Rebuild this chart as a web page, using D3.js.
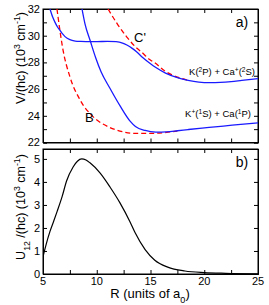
<!DOCTYPE html>
<html>
<head>
<meta charset="utf-8">
<script src="https://cdn.jsdelivr.net/npm/d3@7"></script>
<style>
  body { margin: 0; background: #fff; }
  svg { font-family: "Liberation Sans", Arial, sans-serif; }
</style>
</head>
<body>
<div id="chart"></div>
<script>
// R values (units of a0) and energies
var upperBlueR = [5.65, 5.9, 6.12, 6.35, 6.58, 6.8, 7.05, 7.5, 8.0, 8.5, 9.0, 10.0, 11.0, 11.8, 12.4, 12.8, 13.3, 13.7, 14.3, 15.0, 15.5, 16.4, 17.5, 18.5, 19.5, 20.5, 21.5, 22.5, 23.5, 25];
var upperBlueV = [32.0, 31.4, 31.0, 30.65, 30.4, 30.15, 29.93, 29.7, 29.6, 29.57, 29.56, 29.56, 29.57, 29.55, 29.45, 29.3, 29.05, 28.8, 28.35, 27.9, 27.62, 27.2, 26.86, 26.65, 26.52, 26.48, 26.5, 26.56, 26.65, 26.78];

var lowerBlueR = [8.63, 8.9, 9.4, 9.9, 10.4, 11.2, 12.2, 13.1, 13.6, 14.5, 15.5, 16.5, 17.5, 18.5, 19.8, 21, 22.6, 25];
var lowerBlueV = [32.0, 30.9, 29.6, 28.35, 27.3, 26.1, 24.7, 23.6, 23.2, 22.9, 22.78, 22.8, 22.88, 22.97, 23.08, 23.17, 23.3, 23.47];

var redBR = [6.3, 6.4, 6.86, 7.5, 8.44, 9.65, 11.23, 12.44, 13.5, 15, 16.5, 17.5];
var redBV = [32.0, 31.4, 28.94, 26.93, 25.2, 23.94, 23.12, 22.8, 22.68, 22.68, 22.76, 22.86];

var redCR = [11.05, 11.98, 12.8, 13.56, 14.2, 14.95, 15.4, 16.35, 17.5, 18.5];
var redCV = [32.0, 30.8, 29.9, 29.2, 28.75, 28.2, 27.97, 27.35, 26.9, 26.66];

var couplingR = [5, 5.3, 5.65, 6.0, 6.3, 6.77, 7.2, 7.8, 8.2, 8.6, 9.0, 9.37, 10.3, 11.23, 12.16, 13.1, 13.56, 14.5, 15.4, 16.6, 18.2, 20, 22, 25];
var couplingU = [0.75, 1.3, 1.85, 2.3, 2.7, 3.35, 4.05, 4.65, 4.9, 5.0, 4.95, 4.83, 4.39, 3.78, 3.09, 2.26, 1.8, 1.06, 0.6, 0.3, 0.13, 0.06, 0.03, 0.01];

var xTickLabels = [5, 10, 15, 20, 25];
var topTickLabels = [22, 24, 26, 28, 30, 32];
var bottomTickLabels = [0, 1, 2, 3, 4, 5];

function zip(xs, ys) {
    return xs.map(function(x, i) { return [x, ys[i]]; });
}

var width = 269, height = 305;
var left = 43, right = 258;

var svg = d3.select("#chart").append("svg")
    .attr("width", width)
    .attr("height", height);

var x = d3.scaleLinear().domain([5, 25]).range([left, right]);
var yTop = d3.scaleLinear().domain([22, 32]).range([142.5, 9]);
var yBot = d3.scaleLinear().domain([0, 5.43]).range([274, 149]);

var xMinor = d3.range(5, 25.01, 2.5);

function frame(y, minorY, labelTicks) {
    var g = svg.append("g");
    var y0 = y.range()[0], y1 = y.range()[1];

    // inward ticks on all four sides
    g.append("g")
        .attr("transform", "translate(0," + y0 + ")")
        .call(d3.axisBottom(x).tickValues(xMinor).tickSize(-4).tickFormat(""));
    g.append("g")
        .attr("transform", "translate(0," + y1 + ")")
        .call(d3.axisTop(x).tickValues(xMinor).tickSize(-4).tickFormat(""));
    g.append("g")
        .attr("transform", "translate(" + left + ",0)")
        .call(d3.axisLeft(y).tickValues(minorY).tickSize(-4).tickFormat(""));
    g.append("g")
        .attr("transform", "translate(" + right + ",0)")
        .call(d3.axisRight(y).tickValues(minorY).tickSize(-4).tickFormat(""));

    // tick labels on the left
    g.selectAll(".ylab")
        .data(labelTicks)
        .enter().append("text")
        .attr("x", left - 3)
        .attr("y", function(d) { return y(d); })
        .attr("dy", "0.35em")
        .attr("text-anchor", "end")
        .attr("font-size", 11)
        .text(function(d) { return d; });

    g.selectAll(".domain").attr("stroke", "#000");
    g.selectAll(".tick line").attr("stroke", "#000");

    g.append("rect")
        .attr("x", left).attr("y", y1)
        .attr("width", right - left).attr("height", y0 - y1)
        .attr("fill", "none").attr("stroke", "#000").attr("stroke-width", 1);
}

frame(yTop, d3.range(22, 32.01, 1), topTickLabels);
frame(yBot, d3.range(0, 5.01, 1), bottomTickLabels);

// x tick labels for bottom panel
svg.selectAll(".xlab")
    .data(xTickLabels)
    .enter().append("text")
    .attr("x", function(d) { return x(d); })
    .attr("y", 285)
    .attr("text-anchor", "middle")
    .attr("font-size", 11)
    .text(function(d) { return d; });

// clip paths
svg.append("clipPath").attr("id", "clipTop")
    .append("rect").attr("x", left).attr("y", 9).attr("width", right - left).attr("height", 133.5);
svg.append("clipPath").attr("id", "clipBot")
    .append("rect").attr("x", left).attr("y", 149).attr("width", right - left).attr("height", 125);

var lineTop = d3.line()
    .x(function(d) { return x(d[0]); })
    .y(function(d) { return yTop(d[1]); })
    .curve(d3.curveMonotoneX);

var lineBot = d3.line()
    .x(function(d) { return x(d[0]); })
    .y(function(d) { return yBot(d[1]); })
    .curve(d3.curveMonotoneX);

var topG = svg.append("g").attr("clip-path", "url(#clipTop)");

// dashed diabatic curves
topG.append("path").datum(zip(redBR, redBV))
    .attr("d", lineTop).attr("fill", "none")
    .attr("stroke", "#ff0000").attr("stroke-width", 1.3).attr("stroke-dasharray", "5,3");
topG.append("path").datum(zip(redCR, redCV))
    .attr("d", lineTop).attr("fill", "none")
    .attr("stroke", "#ff0000").attr("stroke-width", 1.3).attr("stroke-dasharray", "5,3");

// adiabatic curves
topG.append("path").datum(zip(upperBlueR, upperBlueV))
    .attr("d", lineTop).attr("fill", "none")
    .attr("stroke", "#1a1aff").attr("stroke-width", 1.3);
topG.append("path").datum(zip(lowerBlueR, lowerBlueV))
    .attr("d", lineTop).attr("fill", "none")
    .attr("stroke", "#1a1aff").attr("stroke-width", 1.3);

// coupling
svg.append("g").attr("clip-path", "url(#clipBot)")
    .append("path").datum(zip(couplingR, couplingU))
    .attr("d", lineBot).attr("fill", "none")
    .attr("stroke", "#000").attr("stroke-width", 1.2);

// annotations
svg.append("text").attr("x", 242).attr("y", 27).attr("text-anchor", "middle")
    .attr("font-size", 14).text("a)");
svg.append("text").attr("x", 242).attr("y", 167).attr("text-anchor", "middle")
    .attr("font-size", 14).text("b)");
svg.append("text").attr("x", 134).attr("y", 42).attr("font-size", 13).text("C'");
svg.append("text").attr("x", 85).attr("y", 122).attr("font-size", 13).text("B");

function supText(sel, parts) {
    parts.forEach(function(p) {
        var t = sel.append("tspan").text(p[0]);
        if (p[1] === "sup") t.attr("baseline-shift", "super").attr("font-size", "70%");
        if (p[1] === "sub") t.attr("baseline-shift", "sub").attr("font-size", "70%");
    });
}

var l1 = svg.append("text").attr("x", 255).attr("y", 75)
    .attr("text-anchor", "end").attr("font-size", 9.5);
supText(l1, [["K("], ["2", "sup"], ["P) + Ca"], ["+", "sup"], ["("], ["2", "sup"], ["S)"]]);

var l2 = svg.append("text").attr("x", 251).attr("y", 117)
    .attr("text-anchor", "end").attr("font-size", 9.5);
supText(l2, [["K"], ["+", "sup"], ["("], ["1", "sup"], ["S) + Ca("], ["1", "sup"], ["P)"]]);

// axis titles
var yt1 = svg.append("text").attr("transform", "translate(25,58) rotate(-90)")
    .attr("text-anchor", "middle").attr("font-size", 12.5);
supText(yt1, [["V/(hc) (10"], ["3", "sup"], [" cm"], ["-1", "sup"], [")"]]);

var yt2 = svg.append("text").attr("transform", "translate(25,207) rotate(-90)")
    .attr("text-anchor", "middle").attr("font-size", 12.5);
supText(yt2, [["U"], ["12", "sub"], [" /(hc) (10"], ["3", "sup"], [" cm"], ["-1", "sup"], [")"]]);

var xt = svg.append("text").attr("x", 150).attr("y", 298)
    .attr("text-anchor", "middle").attr("font-size", 13);
supText(xt, [["R (units of a"], ["0", "sub"], [")"]]);
</script>
</body>
</html>
